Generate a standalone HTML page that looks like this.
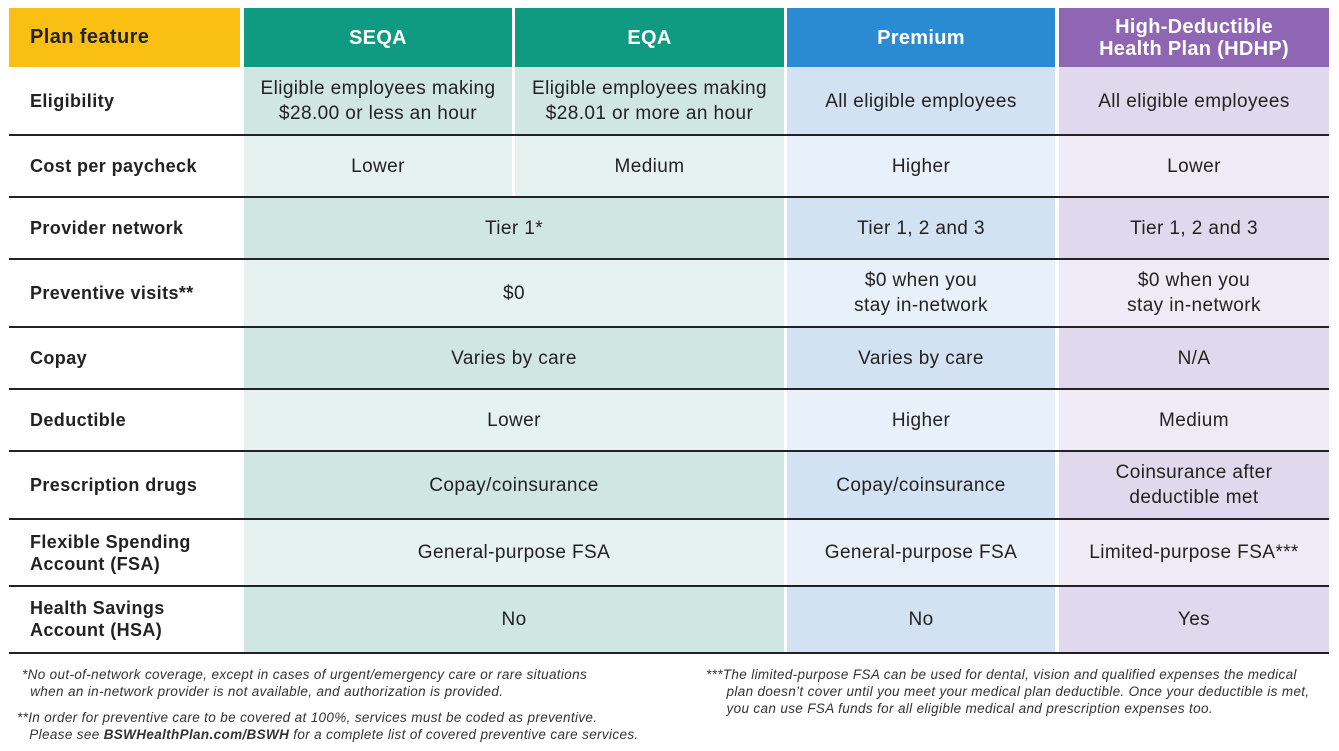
<!DOCTYPE html>
<html><head><meta charset="utf-8"><style>
*{margin:0;padding:0;box-sizing:border-box}
body{width:1339px;height:751px;background:#fff;position:relative;overflow:hidden;font-family:"Liberation Sans",sans-serif;color:#222}
.c{position:absolute;display:flex;align-items:center;justify-content:center;text-align:center;font-size:19px;letter-spacing:0.4px;line-height:25px}
.l{position:absolute;display:flex;align-items:center;font-size:18px;letter-spacing:0.4px;font-weight:bold;line-height:22px;padding-left:21px;left:9px;width:231px}
.h{color:#fff;font-weight:bold;font-size:20px;line-height:22px;letter-spacing:0.3px}
.ln{position:absolute;height:1.5px;background:#222}
.fn{position:absolute;font-size:13.5px;letter-spacing:0.35px;font-style:italic;line-height:17px;color:#333;white-space:nowrap}
</style></head><body>
<div class="c" style="left:9px;top:8px;width:231px;height:59px;background:#f9bf13;justify-content:flex-start;padding-left:21px;font-size:20px;font-weight:bold">Plan feature</div>
<div class="c h" style="left:244px;top:8px;width:268px;height:59px;background:#0f9b82">SEQA</div>
<div class="c h" style="left:515px;top:8px;width:269px;height:59px;background:#0f9b82">EQA</div>
<div class="c h" style="left:787px;top:8px;width:268px;height:59px;background:#2a8bd3">Premium</div>
<div class="c h" style="left:1059px;top:8px;width:270px;height:59px;background:#8e66b3">High-Deductible<br>Health Plan (HDHP)</div>

<div class="l" style="top:67px;height:68px">Eligibility</div>
<div class="c" style="left:244px;top:67px;width:268px;height:68px;background:#d0e6e0">Eligible employees making<br>$28.00 or less an hour</div>
<div class="c" style="left:515px;top:67px;width:269px;height:68px;background:#d0e6e0">Eligible employees making<br>$28.01 or more an hour</div>
<div class="c" style="left:787px;top:67px;width:268px;height:68px;background:#d3e2f2">All eligible employees</div>
<div class="c" style="left:1059px;top:67px;width:270px;height:68px;background:#e0d8ec">All eligible employees</div>

<div class="l" style="top:135px;height:62px">Cost per paycheck</div>
<div class="c" style="left:244px;top:135px;width:268px;height:62px;background:#e6f2ef">Lower</div>
<div class="c" style="left:515px;top:135px;width:269px;height:62px;background:#e6f2ef">Medium</div>
<div class="c" style="left:787px;top:135px;width:268px;height:62px;background:#e8f0f9">Higher</div>
<div class="c" style="left:1059px;top:135px;width:270px;height:62px;background:#efebf6">Lower</div>

<div class="l" style="top:197px;height:62px">Provider network</div>
<div class="c" style="left:244px;top:197px;width:540px;height:62px;background:#d0e6e0">Tier 1*</div>
<div class="c" style="left:787px;top:197px;width:268px;height:62px;background:#d3e2f2">Tier 1, 2 and 3</div>
<div class="c" style="left:1059px;top:197px;width:270px;height:62px;background:#e0d8ec">Tier 1, 2 and 3</div>

<div class="l" style="top:259px;height:68px">Preventive visits**</div>
<div class="c" style="left:244px;top:259px;width:540px;height:68px;background:#e6f2ef">$0</div>
<div class="c" style="left:787px;top:259px;width:268px;height:68px;background:#e8f0f9">$0 when you<br>stay in-network</div>
<div class="c" style="left:1059px;top:259px;width:270px;height:68px;background:#efebf6">$0 when you<br>stay in-network</div>

<div class="l" style="top:327px;height:62px">Copay</div>
<div class="c" style="left:244px;top:327px;width:540px;height:62px;background:#d0e6e0">Varies by care</div>
<div class="c" style="left:787px;top:327px;width:268px;height:62px;background:#d3e2f2">Varies by care</div>
<div class="c" style="left:1059px;top:327px;width:270px;height:62px;background:#e0d8ec">N/A</div>

<div class="l" style="top:389px;height:62px">Deductible</div>
<div class="c" style="left:244px;top:389px;width:540px;height:62px;background:#e6f2ef">Lower</div>
<div class="c" style="left:787px;top:389px;width:268px;height:62px;background:#e8f0f9">Higher</div>
<div class="c" style="left:1059px;top:389px;width:270px;height:62px;background:#efebf6">Medium</div>

<div class="l" style="top:451px;height:68px">Prescription drugs</div>
<div class="c" style="left:244px;top:451px;width:540px;height:68px;background:#d0e6e0">Copay/coinsurance</div>
<div class="c" style="left:787px;top:451px;width:268px;height:68px;background:#d3e2f2">Copay/coinsurance</div>
<div class="c" style="left:1059px;top:451px;width:270px;height:68px;background:#e0d8ec">Coinsurance after<br>deductible met</div>

<div class="l" style="top:519px;height:67px">Flexible Spending<br>Account (FSA)</div>
<div class="c" style="left:244px;top:519px;width:540px;height:67px;background:#e6f2ef">General-purpose FSA</div>
<div class="c" style="left:787px;top:519px;width:268px;height:67px;background:#e8f0f9">General-purpose FSA</div>
<div class="c" style="left:1059px;top:519px;width:270px;height:67px;background:#efebf6">Limited-purpose FSA***</div>

<div class="l" style="top:586px;height:66px">Health Savings<br>Account (HSA)</div>
<div class="c" style="left:244px;top:586px;width:540px;height:66px;background:#d0e6e0">No</div>
<div class="c" style="left:787px;top:586px;width:268px;height:66px;background:#d3e2f2">No</div>
<div class="c" style="left:1059px;top:586px;width:270px;height:66px;background:#e0d8ec">Yes</div>

<div class="ln" style="left:9px;width:1320px;top:134px"></div>
<div class="ln" style="left:9px;width:1320px;top:196px"></div>
<div class="ln" style="left:9px;width:1320px;top:258px"></div>
<div class="ln" style="left:9px;width:1320px;top:326px"></div>
<div class="ln" style="left:9px;width:1320px;top:388px"></div>
<div class="ln" style="left:9px;width:1320px;top:450px"></div>
<div class="ln" style="left:9px;width:1320px;top:518px"></div>
<div class="ln" style="left:9px;width:1320px;top:585px"></div>
<div class="ln" style="left:9px;width:1320px;top:652px"></div>

<div class="fn" style="left:22px;top:666px">*No out-of-network coverage, except in cases of urgent/emergency care or rare situations<br>&nbsp;&nbsp;when an in-network provider is not available, and authorization is provided.</div>
<div class="fn" style="left:17px;top:709px">**In order for preventive care to be covered at 100%, services must be coded as preventive.<br>&nbsp;&nbsp;&nbsp;Please see <b>BSWHealthPlan.com/BSWH</b> for a complete list of covered preventive care services.</div>
<div class="fn" style="left:706px;top:666px">***The limited-purpose FSA can be used for dental, vision and qualified expenses the medical<br>&nbsp;&nbsp;&nbsp;&nbsp;&nbsp;plan doesn’t cover until you meet your medical plan deductible. Once your deductible is met,<br>&nbsp;&nbsp;&nbsp;&nbsp;&nbsp;you can use FSA funds for all eligible medical and prescription expenses too.</div>
</body></html>
